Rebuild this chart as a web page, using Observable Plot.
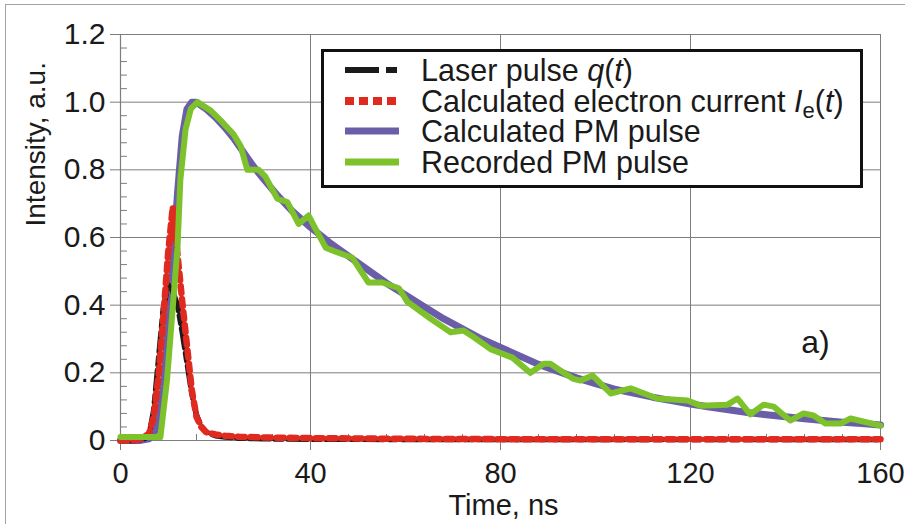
<!DOCTYPE html>
<html>
<head>
<meta charset="utf-8">
<script src="https://cdn.jsdelivr.net/npm/d3@7"></script>
<script src="https://cdn.jsdelivr.net/npm/@observablehq/plot@0.6"></script>
<style>
  html, body { margin: 0; padding: 0; background: #fff; }
  #wrap { position: relative; width: 905px; height: 524px; overflow: hidden;
          font-family: "Liberation Sans", Arial, sans-serif; color: #1a1a1a; }
  #edge { position: absolute; left: 5px; top: 4px; width: 1200px; height: 1200px;
          border-top: 1.5px solid #a3a3a3; border-left: 1.5px solid #a3a3a3; pointer-events: none; }
  #legend { position: absolute; left: 321px; top: 49px; width: 536px; height: 133px;
            border: 3px solid #111; background: #fff; }
  #legend .row { position: absolute; left: 0; height: 30px; width: 100%; }
  #legend svg { position: absolute; left: 21px; top: 10px; }
  #legend .lab { position: absolute; display: block; left: 97px; top: 1px; height: 28px; overflow: visible;
                 font-size: 30.5px; line-height: 28px; white-space: nowrap; }
  #legend i { font-style: italic; }
  #legend sub { font-size: 22px; vertical-align: -6px; line-height: 0; }
</style>
</head>
<body>
<div id="wrap"></div>
<script>
// Time axis (ns) and tick values
const xTicks = [0, 40, 80, 120, 160];
const yTicks = [0, 0.2, 0.4, 0.6, 0.8, 1.0, 1.2];
const xMinor = [8, 16, 24, 32, 48, 56, 64, 72, 88, 96, 104, 112, 128, 136, 144, 152];
const yMinor = [0.04, 0.08, 0.12, 0.16, 0.24, 0.28, 0.32, 0.36, 0.44, 0.48, 0.52, 0.56,
                0.64, 0.68, 0.72, 0.76, 0.84, 0.88, 0.92, 0.96, 1.04, 1.08, 1.12, 1.16];

// Laser pulse q(t)
const laserT = [0, 3, 5, 6, 7, 8, 9, 10, 11, 12, 13, 14, 15, 16, 17, 18, 19, 20, 22, 25, 30, 40, 60, 80, 100, 120, 140, 160];
const laserV = [0, 0, 0.004, 0.015, 0.09, 0.24, 0.39, 0.46, 0.44, 0.4, 0.32, 0.23, 0.14, 0.075, 0.042, 0.026, 0.019, 0.014, 0.01, 0.007, 0.005, 0.004, 0.003, 0.003, 0.003, 0.003, 0.003, 0.003];

// Calculated electron current Ie(t)
const currentT = [0, 4, 6, 7, 8, 9, 10, 11, 12, 13, 14, 15, 16, 17, 18, 20, 22, 25, 30, 40, 60, 80, 100, 120, 140, 160];
const currentV = [0, 0.002, 0.02, 0.07, 0.19, 0.36, 0.55, 0.69, 0.55, 0.41, 0.28, 0.15, 0.07, 0.04, 0.025, 0.018, 0.014, 0.011, 0.009, 0.007, 0.005, 0.004, 0.004, 0.004, 0.004, 0.004];

// Calculated PM pulse
const calcT = [0, 4, 6, 7, 8, 9, 10, 11, 12, 13, 14, 15, 16, 17, 18, 20, 22, 24, 26, 28, 30, 33, 36, 40, 44, 48, 52, 56, 60, 64, 68, 72, 76, 80, 84, 88, 92, 96, 100, 104, 108, 112, 116, 120, 124, 128, 132, 136, 140, 144, 148, 152, 156, 160];
const calcV = [0, 0, 0.005, 0.02, 0.06, 0.16, 0.33, 0.53, 0.73, 0.9, 0.98, 1.0, 1.0, 0.99, 0.98, 0.955, 0.925, 0.89, 0.85, 0.81, 0.775, 0.725, 0.68, 0.63, 0.585, 0.545, 0.505, 0.465, 0.43, 0.395, 0.36, 0.33, 0.3, 0.275, 0.25, 0.225, 0.205, 0.185, 0.168, 0.152, 0.14, 0.128, 0.118, 0.108, 0.099, 0.091, 0.083, 0.076, 0.07, 0.064, 0.059, 0.054, 0.05, 0.046];

// Recorded PM pulse
const recT = [0, 8.4, 9.8, 10.9, 12, 12.6, 13.7, 14.8, 16.2, 19, 21.5, 23.8, 25.3, 26.7, 29.1, 30.5, 33, 35.1, 37.5, 39.6, 41, 43.2, 44.9, 48.8, 52.2, 55.1, 58.6, 60.4, 65.3, 69.5, 72.2, 74.4, 77.9, 82.5, 86.3, 89.1, 90.5, 92.6, 95.2, 96.8, 99.4, 103.2, 107.4, 113, 119.4, 122.1, 127.8, 129.9, 132.6, 135.4, 137.5, 141, 143.8, 145.9, 148.4, 151.6, 153.7, 160];
const recV = [0.01, 0.01, 0.18, 0.375, 0.57, 0.77, 0.92, 0.98, 1.0, 0.975, 0.94, 0.905, 0.87, 0.8, 0.8, 0.78, 0.715, 0.705, 0.64, 0.665, 0.627, 0.57, 0.56, 0.54, 0.467, 0.467, 0.45, 0.41, 0.36, 0.32, 0.325, 0.305, 0.27, 0.245, 0.2, 0.227, 0.227, 0.207, 0.183, 0.177, 0.192, 0.139, 0.154, 0.124, 0.118, 0.103, 0.106, 0.124, 0.077, 0.106, 0.1, 0.059, 0.08, 0.074, 0.05, 0.05, 0.065, 0.044];

const rows = (ts, vs) => ts.map((t, i) => ({t, v: vs[i]}));

const GRID = "#7d7d7d";
const INK = "#1a1a1a";
const colors = {laser: "#1b1b1b", current: "#e12a1f", calc: "#6b5ea8", rec: "#7dc22b"};

const chart = Plot.plot({
  width: 905,
  height: 524,
  marginLeft: 120,
  marginRight: 25,
  marginTop: 34,
  marginBottom: 84,
  x: {domain: [0, 160]},
  y: {domain: [0, 1.2]},
  style: {fontFamily: "'Liberation Sans', Arial, sans-serif", fontSize: "30px", color: INK, background: "#fff"},
  marks: [
    Plot.gridX(xTicks, {stroke: GRID, strokeOpacity: 1, strokeWidth: 1}),
    Plot.gridY(yTicks, {stroke: GRID, strokeOpacity: 1, strokeWidth: 1}),
    Plot.ruleX([0], {stroke: GRID, strokeWidth: 1.2}),
    Plot.ruleY([0], {stroke: GRID, strokeWidth: 1.2}),
    Plot.axisX(xTicks, {tickSize: 10, tickPadding: 12, stroke: GRID, fill: INK, label: null, fontSize: 29}),
    Plot.axisY(yTicks, {tickSize: 10, tickPadding: 5, stroke: GRID, fill: INK, label: null, fontSize: 30,
                        tickFormat: d => d === 0 ? "0" : d.toFixed(1)}),
    Plot.axisX(xMinor, {tickSize: 6, dy: -6, stroke: GRID, tickFormat: () => "", label: null}),
    Plot.axisY(yMinor, {tickSize: 7, dx: 7, stroke: GRID, tickFormat: () => "", label: null}),

    Plot.line(rows(calcT, calcV), {x: "t", y: "v", stroke: colors.calc, strokeWidth: 7, strokeLinejoin: "round"}),
    Plot.line(rows(laserT, laserV), {x: "t", y: "v", stroke: colors.laser, strokeWidth: 5.5, strokeDasharray: "20,5,8,5"}),
    Plot.line(rows(currentT, currentV), {x: "t", y: "v", stroke: colors.current, strokeWidth: 6.5, strokeDasharray: "7,6"}),
    Plot.line(rows(recT, recV), {x: "t", y: "v", stroke: colors.rec, strokeWidth: 6, strokeLinejoin: "round"}),

    Plot.text(["Intensity, a.u."], {frameAnchor: "left", rotate: -90, dx: -76, dy: -11,
                                    lineAnchor: "bottom", fontSize: 28, fill: INK}),
    Plot.text(["Time, ns"], {frameAnchor: "bottom", dx: 3, dy: 74, lineAnchor: "bottom", fontSize: 29, fill: INK}),
    Plot.text(["a)"], {frameAnchor: "right", dx: -65, dy: 105, textAnchor: "middle", fontSize: 32, fill: INK})
  ]
});

const wrap = document.getElementById("wrap");
wrap.appendChild(chart);

// Legend box drawn over the plot area
const legendItems = [
  {key: "laser", html: "Laser pulse <i>q</i>(<i>t</i>)", width: 6, dash: "34,7,11,7"},
  {key: "current", html: "Calculated electron current <i>I</i><sub>e</sub>(<i>t</i>)", width: 8, dash: "9,5"},
  {key: "calc", html: "Calculated PM pulse", width: 7, dash: null},
  {key: "rec", html: "Recorded PM pulse", width: 7, dash: null}
];
const legend = document.createElement("div");
legend.id = "legend";
legendItems.forEach((item, i) => {
  const row = document.createElement("div");
  row.className = "row";
  row.style.top = (3 + i * 30.5) + "px";
  const sw = d3.create("svg").attr("width", 54).attr("height", 10);
  sw.append("line").attr("x1", 0).attr("x2", 54).attr("y1", 5).attr("y2", 5)
    .attr("stroke", colors[item.key]).attr("stroke-width", item.width)
    .attr("stroke-dasharray", item.dash);
  row.appendChild(sw.node());
  const lab = document.createElement("div");
  lab.className = "lab";
  lab.innerHTML = item.html;
  row.appendChild(lab);
  legend.appendChild(row);
});
wrap.appendChild(legend);

const edge = document.createElement("div");
edge.id = "edge";
wrap.appendChild(edge);
</script>
</body>
</html>
